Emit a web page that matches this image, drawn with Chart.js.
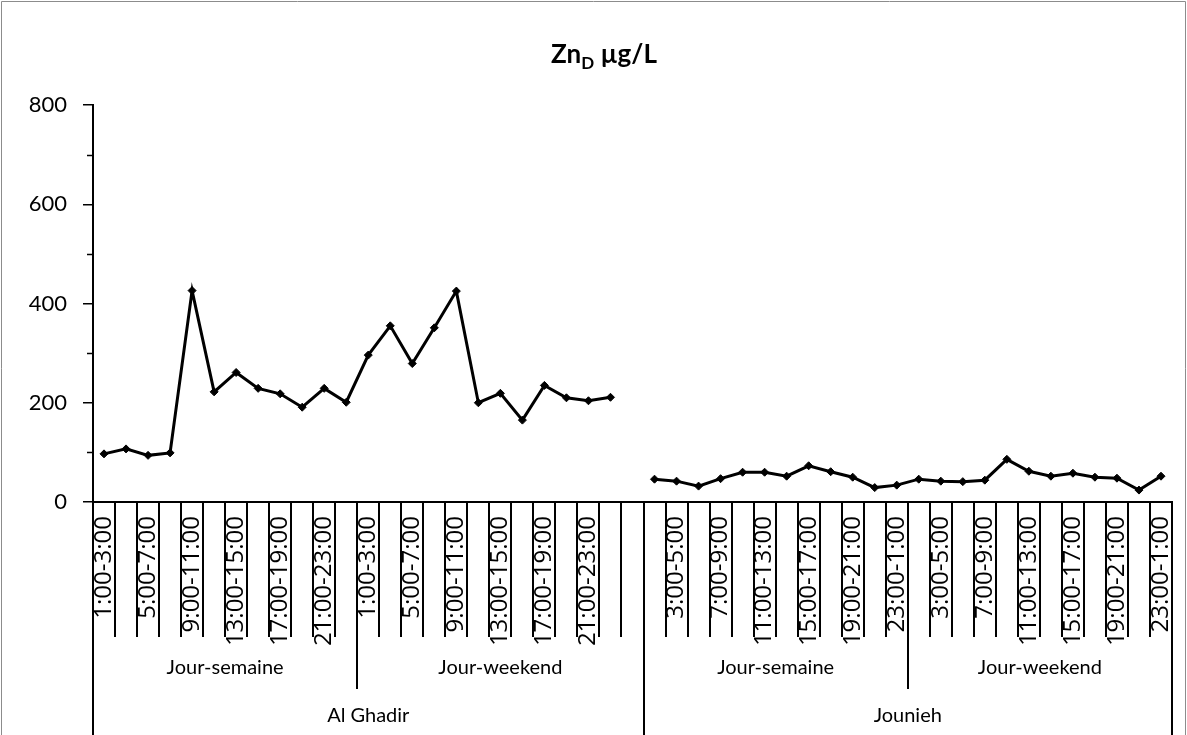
<!DOCTYPE html>
<html><head><meta charset="utf-8">
<script src="https://cdn.jsdelivr.net/npm/chart.js@4.4.1/dist/chart.umd.min.js"></script>
<style>
html,body{margin:0;padding:0;background:#fff;}
canvas{display:block}
</style></head><body>
<canvas id="c" width="1187" height="735"></canvas>
<script>
// ---- data ----
const hourSlots = ['1:00-3:00','3:00-5:00','5:00-7:00','7:00-9:00','9:00-11:00','11:00-13:00',
  '13:00-15:00','15:00-17:00','17:00-19:00','19:00-21:00','21:00-23:00','23:00-1:00'];
const sites = ['Al Ghadir','Jounieh'];
const periods = ['Jour-semaine','Jour-weekend'];
const alGhadirSemaine = [97,107,94,99,426,222,261,229,218,191,229,201];
const alGhadirWeekend = [296,355,279,351,425,200,219,165,235,210,204,211];
const alGhadirWeekendExtra = [''];   // blank category at end of Al Ghadir weekend
const jouniehSemaine = [46,42,32,47,60,60,52,73,61,50,29,34];
const jouniehWeekend = [46,42,41,44,86,62,52,58,50,48,24,52];
const yTicks = [0,200,400,600,800];

// build groups
const groups = [
  {site: sites[0], period: periods[0], labels: hourSlots, values: alGhadirSemaine},
  {site: sites[0], period: periods[1], labels: hourSlots.concat(alGhadirWeekendExtra), values: alGhadirWeekend.concat(alGhadirWeekendExtra.map(()=>null))},
  {site: sites[1], period: periods[0], labels: hourSlots, values: jouniehSemaine},
  {site: sites[1], period: periods[1], labels: hourSlots, values: jouniehWeekend},
];
const labels = [], values = [];
groups.forEach(g => { g.start = labels.length; labels.push(...g.labels); values.push(...g.values); g.end = labels.length; });

const axisPlugin = {
  id: 'multiAxis',
  afterDraw(chart) {
    const ctx = chart.ctx, xs = chart.scales.x, ys = chart.scales.y;
    const n = labels.length;
    const bound = i => {
      if (i <= 0) return xs.left;
      if (i >= n) return xs.right;
      return (xs.getPixelForValue(i - 1) + xs.getPixelForValue(i)) / 2;
    };
    const y0 = ys.bottom;
    ctx.save();
    ctx.strokeStyle = '#000';
    ctx.lineWidth = 2;
    for (let i = 0; i <= n; i++) {
      const x = Math.round(bound(i));
      ctx.beginPath(); ctx.moveTo(x, y0); ctx.lineTo(x, 637); ctx.stroke();
    }
    groups.forEach(g => {
      [g.start, g.end].forEach(i => {
        const x = Math.round(bound(i));
        ctx.beginPath(); ctx.moveTo(x, y0); ctx.lineTo(x, 689); ctx.stroke();
      });
    });
    const siteBounds = [0, groups[2].start, n];
    siteBounds.forEach(i => {
      const x = Math.round(bound(i));
      ctx.beginPath(); ctx.moveTo(x, y0); ctx.lineTo(x, 735); ctx.stroke();
    });
    ctx.fillStyle = '#000';
    ctx.textAlign = 'center';
    ctx.textBaseline = 'middle';
    ctx.font = '20px Lato';
    groups.forEach(g => {
      ctx.fillText(g.period, (bound(g.start) + bound(g.end)) / 2, 668);
    });
    sites.forEach((s, k) => {
      const a = bound(siteBounds[k]), b = bound(siteBounds[k + 1]);
      ctx.fillText(s, (a + b) / 2, 716);
    });
    ctx.lineWidth = 1.5;
    for (let v = 100; v < 800; v += 200) {
      const y = Math.round(ys.getPixelForValue(v)) + 0.5;
      ctx.beginPath(); ctx.moveTo(ys.right - 6, y); ctx.lineTo(ys.right, y); ctx.stroke();
    }
    ctx.textAlign = 'left';
    ctx.textBaseline = 'alphabetic';
    const big = 'bold 26px Lato', small = 'bold 17px Lato';
    const parts = [['Zn', big, 0], ['D', small, 6], [' µg/L', big, 0]];
    let w = 0;
    parts.forEach(p => { ctx.font = p[1]; w += ctx.measureText(p[0]).width; });
    let x = 604 - w / 2;
    parts.forEach(p => { ctx.font = p[1]; ctx.fillText(p[0], x, 63 + p[2]); x += ctx.measureText(p[0]).width; });
    ctx.strokeStyle = '#8c8c8c';
    ctx.lineWidth = 1;
    ctx.beginPath();
    ctx.moveTo(1.5, 735); ctx.lineTo(1.5, 1.5); ctx.lineTo(1185.5, 1.5); ctx.lineTo(1185.5, 735);
    ctx.stroke();
    ctx.restore();
  }
};

new Chart(document.getElementById('c'), {
  type: 'line',
  data: {
    labels: labels,
    datasets: [{
      data: values,
      borderColor: '#000',
      backgroundColor: '#000',
      borderWidth: 3,
      pointStyle: 'rectRot',
      pointRadius: 4,
      pointBackgroundColor: '#000',
      pointBorderColor: '#000',
      pointBorderWidth: 1,
      tension: 0,
      spanGaps: false,
      fill: false
    }]
  },
  options: {
    responsive: false,
    animation: false,
    devicePixelRatio: 1,
    layout: {padding: {top: 105, right: 15, bottom: 0, left: 0}},
    plugins: {legend: {display: false}, tooltip: {enabled: false}, title: {display: false}},
    scales: {
      x: {
        type: 'category',
        offset: true,
        grid: {display: false, drawTicks: false},
        border: {display: true, color: '#000', width: 2},
        ticks: {
          autoSkip: false, minRotation: 90, maxRotation: 90, padding: 14,
          color: '#000', font: {family: 'Open Sans', size: 24},
          callback: function(v, i) { return i % 2 === 0 ? labels[i] : ''; }
        },
        afterFit: s => { s.height = 233; s.paddingLeft = 0; s.paddingRight = 0; }
      },
      y: {
        min: 0, max: 800,
        afterBuildTicks: s => { s.ticks = yTicks.map(v => ({value: v})); },
        grid: {drawOnChartArea: false, drawTicks: true, tickLength: 10, color: '#000', lineWidth: 1.5},
        border: {display: true, color: '#000', width: 2},
        ticks: {padding: 16, color: '#000', font: {family: 'Lato', size: 22}},
        afterFit: s => { s.width = 93; s.paddingTop = 0; s.paddingBottom = 0; }
      }
    }
  },
  plugins: [axisPlugin]
});
</script>
</body></html>
